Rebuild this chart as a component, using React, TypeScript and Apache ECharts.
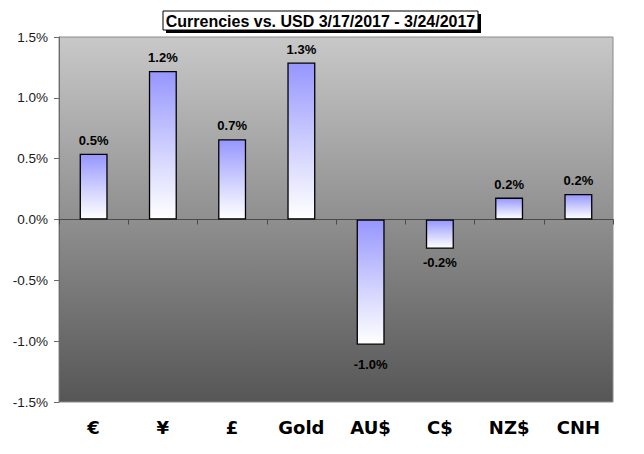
import React, { useEffect, useRef } from "react";
import * as echarts from "echarts";

const title = "Currencies vs. USD 3/17/2017 - 3/24/2017";
const categories = ["€", "¥", "£", "Gold", "AU$", "C$", "NZ$", "CNH"];
const changesPct = [0.54, 1.22, 0.66, 1.29, -1.03, -0.24, 0.18, 0.21];
const yMin = -1.5;
const yMax = 1.5;
const yStep = 0.5;

const fmt = (v: number) => v.toFixed(1) + "%";

export default function App() {
  const ref = useRef<HTMLDivElement>(null);
  useEffect(() => {
    if (!ref.current) return;
    const chart = echarts.init(ref.current, null, { renderer: "svg" });
    const barFill = new echarts.graphic.LinearGradient(0, 0, 0, 1, [
      { offset: 0, color: "#9696ff" },
      { offset: 0.55, color: "#d2d2ff" },
      { offset: 1, color: "#ffffff" },
    ]);
    const option: any = {
      animation: false,
      backgroundColor: "#ffffff",
      grid: {
        left: 59,
        right: 31,
        top: 37,
        bottom: 52,
        show: true,
        borderColor: "#8a8a8a",
        borderWidth: 1,
        backgroundColor: new echarts.graphic.LinearGradient(0, 0, 0, 1, [
          { offset: 0, color: "#c8c8c8" },
          { offset: 1, color: "#565656" },
        ]),
      },
      graphic: [
        {
          type: "rect",
          shape: { x: 166, y: 14, width: 315, height: 19 },
          style: { fill: "#000000" },
          z: 10,
        },
        {
          type: "rect",
          shape: { x: 163, y: 11, width: 315, height: 19 },
          style: { fill: "#ffffff", stroke: "#000000", lineWidth: 1 },
          z: 11,
        },
        {
          type: "text",
          x: 320.5,
          y: 21,
          z: 12,
          style: {
            text: title,
            fill: "#000000",
            font: "bold 16px 'Liberation Sans', Arial, sans-serif",
            align: "center",
            verticalAlign: "middle",
          },
        },
      ],
      xAxis: [
        {
          type: "category",
          data: categories,
          position: "bottom",
          axisLine: { show: false, onZero: false },
          axisTick: { show: false },
          axisLabel: {
            margin: 16,
            color: "#000000",
            fontFamily: "'DejaVu Sans', Verdana, sans-serif",
            fontWeight: "bold",
            fontSize: 18,
          },
        },
        {
          type: "category",
          data: categories,
          position: "bottom",
          axisLine: { show: true, onZero: true, lineStyle: { color: "#4a4a4a", width: 1 } },
          axisTick: { show: true, length: 5, lineStyle: { color: "#4a4a4a" } },
          axisLabel: { show: false },
        },
      ],
      yAxis: {
        type: "value",
        min: yMin,
        max: yMax,
        interval: yStep,
        splitLine: { show: false },
        axisLine: { show: true, lineStyle: { color: "#6a6a6a", width: 1 } },
        axisTick: { show: true, length: 5, lineStyle: { color: "#6a6a6a" } },
        axisLabel: {
          formatter: (v: number) => fmt(v),
          color: "#1a1a1a",
          fontFamily: "'Liberation Sans', Arial, sans-serif",
          fontSize: 13.5,
          margin: 11,
        },
      },
      series: [
        {
          type: "bar",
          xAxisIndex: 1,
          barWidth: 28,
          data: changesPct.map((v) => ({
            value: v,
            label: { position: v < 0 ? "bottom" : "top", distance: v < -0.5 ? 13 : 7 },
          })),
          itemStyle: { color: barFill, borderColor: "#000000", borderWidth: 1.3 },
          label: {
            show: true,
            formatter: (p: any) => fmt(p.value),
            color: "#000000",
            fontFamily: "'Liberation Sans', Arial, sans-serif",
            fontWeight: "bold",
            fontSize: 13,
          },
        },
      ],
    };
    chart.setOption(option);
    return () => chart.dispose();
  }, []);
  return <div ref={ref} style={{ width: 644, height: 454, position: "absolute", left: 0, top: 0 }} />;
}
